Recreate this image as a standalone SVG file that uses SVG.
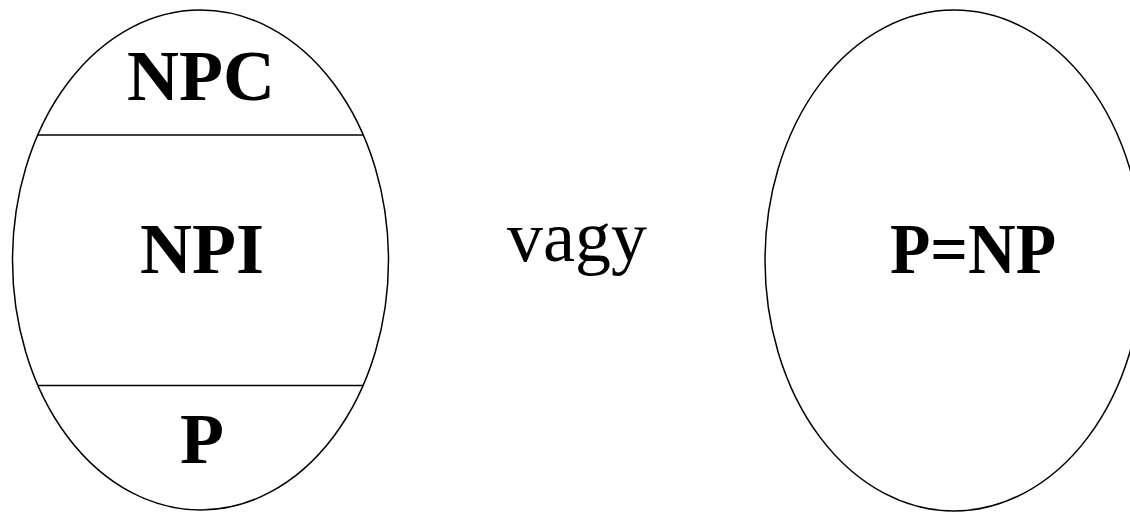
<svg xmlns="http://www.w3.org/2000/svg" width="1130" height="512" viewBox="0 0 1130 512">
<style>
.shape{fill:none;stroke:#000;stroke-width:1.5}
.lbl{font-family:"Liberation Serif","Times New Roman",serif;font-size:72px;font-weight:bold;text-anchor:middle;fill:#000}
.plain{font-family:"Liberation Serif","Times New Roman",serif;font-size:72px;text-anchor:middle;fill:#000}
</style>
<rect width="1130" height="512" fill="#fff"/>
<g id="left-set">
<ellipse class="shape" cx="200.5" cy="260" rx="188" ry="250"/>
<line class="shape" x1="38" y1="135" x2="363" y2="135"/>
<line class="shape" x1="38" y1="385.5" x2="363" y2="385.5"/>
<text class="lbl" x="201" y="100">NPC</text>
<text class="lbl" x="202" y="273">NPI</text>
<text class="lbl" x="202" y="463">P</text>
</g>
<g id="or-label">
<text class="plain" x="577" y="261">vagy</text>
</g>
<g id="right-set">
<ellipse class="shape" cx="954" cy="260.5" rx="189" ry="250.5"/>
<text class="lbl" x="973" y="273" textLength="166" lengthAdjust="spacingAndGlyphs">P=NP</text>
</g>
<g id="connectors"/>
</svg>
